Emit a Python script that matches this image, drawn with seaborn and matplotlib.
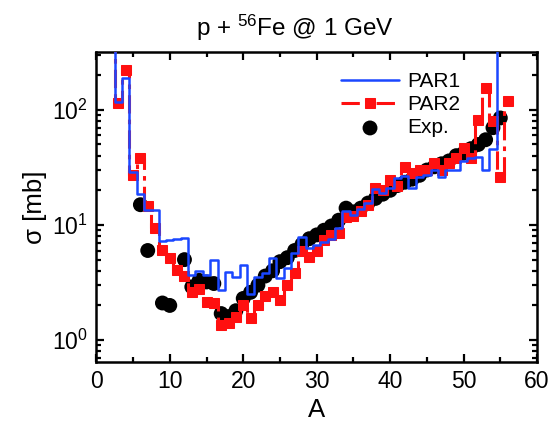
import numpy as np
import pandas as pd
import matplotlib
matplotlib.use("Agg")
import matplotlib.pyplot as plt
import seaborn as sns
from matplotlib.ticker import MultipleLocator, LogLocator, NullFormatter

# ---------------- data ----------------
A_par1 = list(range(2, 56))
sigma_par1 = [3000, 118, 190, 29, 18.6, 13.5, 13.5, 7.3, 7.4, 7.6, 7.7,
              3.7, 4.0, 3.7, 5.0, 2.7, 3.9, 3.55, 4.5, 2.5, 3.5, 3.8, 5.2,
              3.45, 4.2, 5.7, 7.9, 6.3, 6.7, 7.15, 7.6, 9.4, 13.1, 12.2,
              13.8, 15.5, 20.5, 19, 21, 25.6, 26.7, 21, 26, 27, 30, 26,
              30, 30, 36, 38, 38.6, 30, 45.7, 3000]

A_par2 = list(range(2, 57))
sigma_par2 = [3000, 115, 220, 27, 38, 14.5, 9.5, 6.1, 5.2, 4.1, 3.6,
              2.6, 2.8, 2.15, 2.1, 1.35, 1.4, 1.6, 2.0, 1.55, 2.0, 2.4, 2.6,
              2.25, 3.0, 3.8, 6.0, 5.3, 5.9, 7.4, 8.2, 8.5, 11.8, 12.0,
              13.1, 14.9, 21, 20, 24.6, 22, 32, 28, 30, 30, 34.6, 30,
              34.6, 38, 46.8, 38, 82, 155, 80, 26, 120]

A_exp = [6, 7, 9, 10, 12, 13, 14, 15, 16, 17, 18, 19, 20, 21, 22, 23, 24,
         25, 26, 27, 28, 29, 30, 31, 32, 33, 34, 35, 36, 37, 38, 39, 40,
         41, 42, 43, 44, 45, 46, 47, 48, 49, 50, 51, 52, 53, 54, 55]
sigma_exp = [15, 6.0, 2.1, 2.0, 5.0, 2.9, 3.3, 3.2, 3.1, 1.7, 1.6, 1.8,
             2.3, 2.6, 3.0, 3.6, 4.0, 4.8, 5.2, 6.0, 6.8, 7.6, 8.2, 9.0,
             9.8, 11, 14, 13, 14, 15.5, 17, 18.5, 20, 22, 23.5, 25, 27,
             30, 32, 34, 36, 40, 42, 46, 50, 55, 70, 85]

title = r"p + $^{56}$Fe @ 1 GeV"
xlabel = "A"
ylabel = "σ [mb]"

df1 = pd.DataFrame({"A": A_par1, "sigma": sigma_par1})
df2 = pd.DataFrame({"A": A_par2, "sigma": sigma_par2})
dfe = pd.DataFrame({"A": A_exp, "sigma": sigma_exp})

# ---------------- style ----------------
sns.set_theme(style="ticks")
plt.rcParams["font.family"] = ["Liberation Sans", "DejaVu Sans"]
plt.rcParams["mathtext.fontset"] = "custom"
plt.rcParams["mathtext.rm"] = "Liberation Sans"
plt.rcParams["mathtext.it"] = "Liberation Sans:italic"
plt.rcParams["mathtext.default"] = "regular"
for k in ["text.color", "axes.labelcolor", "xtick.color", "ytick.color",
          "axes.edgecolor"]:
    plt.rcParams[k] = "black"

fig = plt.figure(figsize=(5.6, 4.32), dpi=100)
ax = fig.add_axes([0.172, 0.162, 0.787, 0.718])

blue = "#1a47ff"
red = "#ff1010"

sns.scatterplot(data=dfe, x="A", y="sigma", ax=ax, color="black", s=115,
                edgecolor="none", zorder=2, label="Exp.")
sns.lineplot(data=df2, x="A", y="sigma", ax=ax, color=red, lw=2.2,
             drawstyle="steps-mid", marker="s", markersize=6.5,
             markeredgecolor=red, dashes=False, linestyle=(0, (6, 2, 1.5, 2)),
             estimator=None, zorder=3, label="PAR2")
sns.lineplot(data=df1, x="A", y="sigma", ax=ax, color=blue, lw=1.8,
             drawstyle="steps-mid", estimator=None, zorder=4, label="PAR1")

ax.set_yscale("log")
ax.set_xlim(0, 60)
ax.set_ylim(0.645, 319)
ax.xaxis.set_major_locator(MultipleLocator(10))
ax.xaxis.set_minor_locator(MultipleLocator(5))
ax.yaxis.set_major_locator(LogLocator(base=10, numticks=10))
ax.yaxis.set_minor_locator(LogLocator(base=10, subs=np.arange(2, 10), numticks=20))
ax.yaxis.set_minor_formatter(NullFormatter())

ax.tick_params(which="both", direction="in", top=True, right=True,
               labelsize=16.5, width=1.6, color="black", pad=6)
ax.tick_params(which="major", length=6)
ax.tick_params(which="minor", length=3.5)
for sp in ax.spines.values():
    sp.set_linewidth(1.8)
    sp.set_color("black")
    sp.set_visible(True)

fig.text(295 / 560, 1 - 28 / 432, title, fontsize=17.5, ha="center", va="center")
ax.set_xlabel(xlabel, fontsize=18.5, labelpad=3)
ax.set_ylabel(ylabel, fontsize=18.5, labelpad=4)

handles, labels = ax.get_legend_handles_labels()
order = [labels.index(l) for l in ["PAR1", "PAR2", "Exp."]]
leg = ax.legend([handles[i] for i in order], [labels[i] for i in order],
                loc="upper right", bbox_to_anchor=(0.855, 0.975), frameon=False,
                fontsize=15, handlelength=2.8, handletextpad=0.4,
                labelspacing=0.2, borderaxespad=0.2)

fig.savefig("out.png", dpi=100)
